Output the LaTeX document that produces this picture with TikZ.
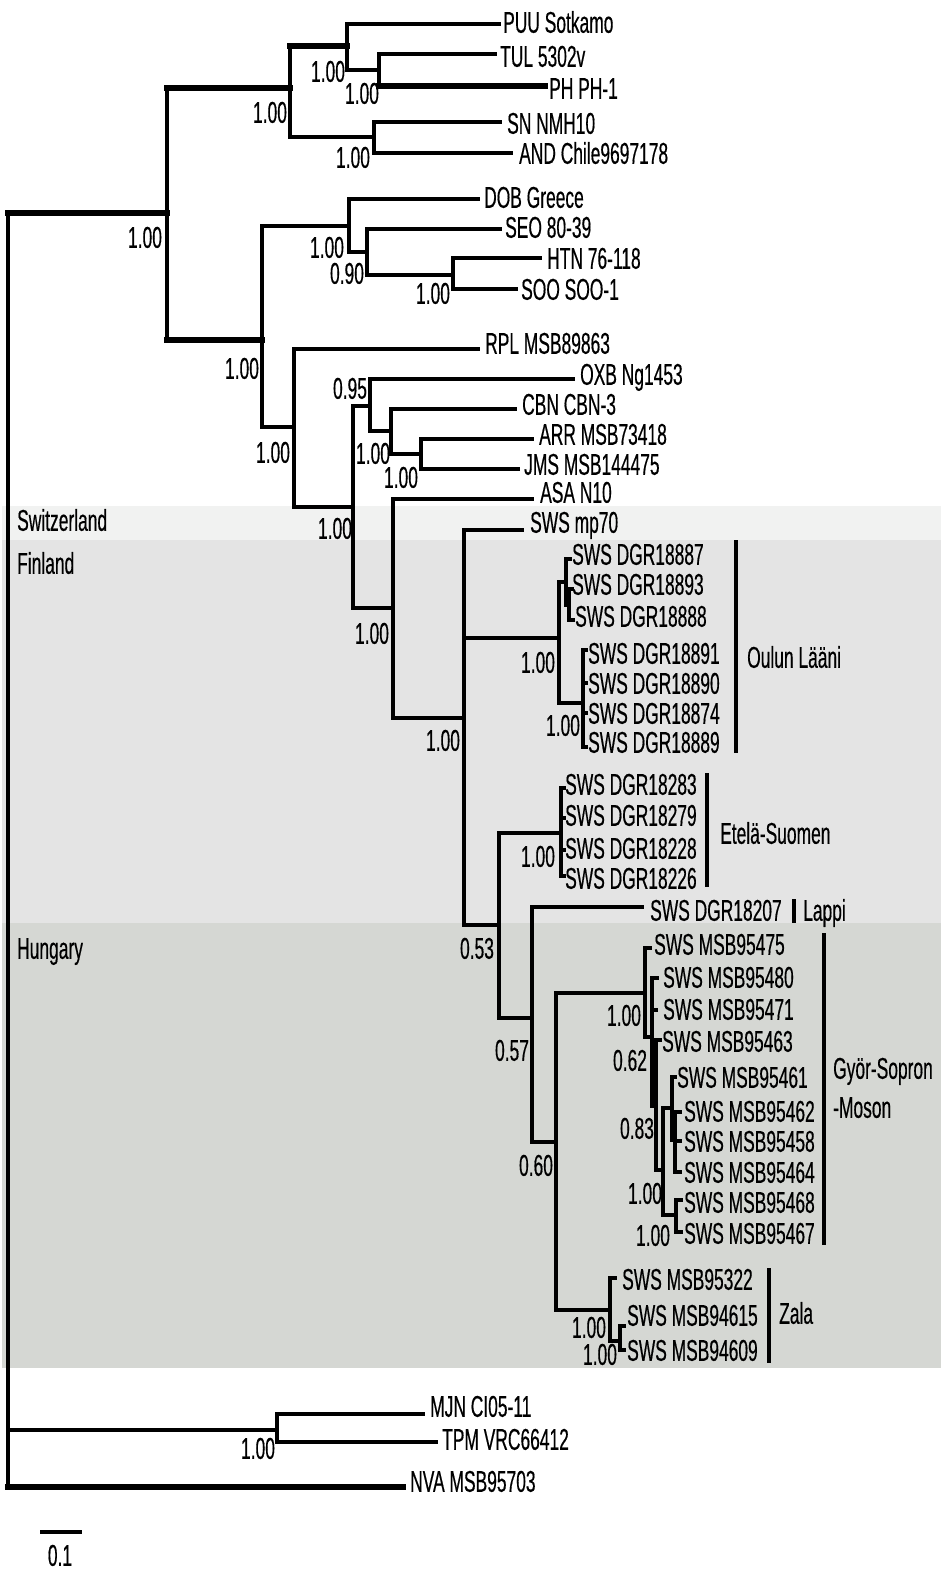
\documentclass[tikz,border=0pt]{standalone}
\usepackage{fontspec}
\setmainfont{Liberation Sans}[FakeStretch=0.58,FakeBold=0.4]
\definecolor{swissbg}{HTML}{F1F2F1}
\definecolor{finbg}{HTML}{E4E4E4}
\definecolor{hunbg}{HTML}{D5D7D3}
\begin{document}
\begin{tikzpicture}[x=1pt,y=-1pt,
  br/.style={line width=3.3pt, line cap=rect},
  thk/.style={line width=5.8pt, line cap=rect},
  med/.style={line width=4.2pt, line cap=rect},
  grpbar/.style={line width=4pt},
  every node/.style={font=\fontsize{30pt}{33pt}\selectfont, inner sep=0pt, text height=21.5pt, text depth=0pt},
  lf/.style={anchor=west},
  sup/.style={anchor=center}]
\useasboundingbox (0,0) rectangle (945,1574);
% background bands
\fill[white] (0,0) rectangle (945,1574);
\fill[swissbg] (2,506) rectangle (941,540);
\fill[finbg] (2,540) rectangle (941,923);
\fill[hunbg] (2,923) rectangle (941,1368);
\node[lf] (swz) at (17,520) {Switzerland};
\node[lf] (fin) at (17,563) {Finland};
\node[lf] (hun) at (17,948) {Hungary};
% internal nodes
\coordinate (r) at (8,850);
\coordinate (N1) at (167,213);
\coordinate (N2) at (290,88);
\coordinate (N3) at (347,46);
\coordinate (N4) at (379,70);
\coordinate (N5) at (374,137);
\coordinate (N6) at (262,340);
\coordinate (N7) at (349,226);
\coordinate (N8) at (367,252);
\coordinate (N9) at (453,275);
\coordinate (N10) at (294,427);
\coordinate (N11) at (353,507);
\coordinate (N12) at (370,406);
\coordinate (N13) at (391,431);
\coordinate (N14) at (421,454);
\coordinate (N15) at (393,608);
\coordinate (N16) at (464,718);
\coordinate (N17) at (559,638);
\coordinate (N18) at (566,582);
\coordinate (N19) at (569,605);
\coordinate (N20) at (583,703);
\coordinate (N21) at (499,925);
\coordinate (N22) at (561,833);
\coordinate (N23) at (532,1018);
\coordinate (N24) at (556,1142);
\coordinate (N25) at (645,993);
\coordinate (N26) at (652,1037);
\coordinate (N27) at (656,1106);
\coordinate (N28) at (663,1170);
\coordinate (N29) at (672,1108);
\coordinate (N30) at (675,1140);
\coordinate (N31) at (676,1215);
\coordinate (N32) at (610,1310);
\coordinate (N33) at (620,1341);
\coordinate (MT) at (277,1430);
% tips
\coordinate (tpuu) at (499,24);
\coordinate (ttul) at (495,54);
\coordinate (tph) at (545,86);
\coordinate (tsn) at (500,122);
\coordinate (tand) at (511,153);
\coordinate (tdob) at (478,199);
\coordinate (tseo) at (500,229);
\coordinate (thtn) at (540,258);
\coordinate (tsoo) at (516,289);
\coordinate (trpl) at (478,349);
\coordinate (toxb) at (573,379);
\coordinate (tcbn) at (515,409);
\coordinate (tarr) at (532,439);
\coordinate (tjms) at (518,469);
\coordinate (tasa) at (532,499);
\coordinate (tmp) at (522,530);
\coordinate (to1) at (570,559);
\coordinate (to2) at (572,589);
\coordinate (to3) at (573,620);
\coordinate (to4) at (586,650);
\coordinate (to5) at (586,683);
\coordinate (to6) at (586,713);
\coordinate (to7) at (586,747);
\coordinate (te1) at (564,788);
\coordinate (te2) at (564,818);
\coordinate (te3) at (564,850);
\coordinate (te4) at (564,876);
\coordinate (tlap) at (642,907);
\coordinate (tg1) at (650,948);
\coordinate (tg2) at (657,978);
\coordinate (tg3) at (656,1010);
\coordinate (tg4) at (660,1040);
\coordinate (tg5) at (675,1077);
\coordinate (tg6) at (680,1112);
\coordinate (tg7) at (680,1141);
\coordinate (tg8) at (680,1172);
\coordinate (tg9) at (681,1200);
\coordinate (tg10) at (681,1232);
\coordinate (tz1) at (615,1278);
\coordinate (tz2) at (624,1326);
\coordinate (tz3) at (624,1350);
\coordinate (tmjn) at (423,1414);
\coordinate (ttpm) at (436,1442);
\coordinate (tnva) at (403,1487);
% branches
\draw[br] (r |- N1) -- (r |- tnva);
\foreach \p/\c in {r/N1, r/MT, r/tnva, N1/N2, N1/N6, N2/N3, N2/N5, N3/tpuu, N3/N4, N4/ttul, N4/tph,
  N5/tsn, N5/tand, N6/N7, N6/N10, N7/tdob, N7/N8, N8/tseo, N8/N9, N9/thtn, N9/tsoo,
  N10/trpl, N10/N11, N11/N12, N11/N15, N12/toxb, N12/N13, N13/tcbn, N13/N14, N14/tarr, N14/tjms,
  N15/tasa, N15/N16, N16/tmp, N16/N17, N16/N21, N17/N18, N17/N20, N18/to1, N18/N19, N19/to2, N19/to3,
  N20/to4, N20/to5, N20/to6, N20/to7, N21/N22, N21/N23, N22/te1, N22/te2, N22/te3, N22/te4,
  N23/tlap, N23/N24, N24/N25, N24/N32, N25/tg1, N25/N26, N26/tg2, N26/tg3, N26/N27, N27/tg4, N27/N28,
  N28/N29, N28/N31, N29/tg5, N29/N30, N30/tg6, N30/tg7, N30/tg8, N31/tg9, N31/tg10,
  N32/tz1, N32/N33, N33/tz2, N33/tz3, MT/tmjn, MT/ttpm}
  \draw[br] (\p) |- (\c);
\foreach \p/\c in {r/N1, N1/N2, N2/N3, N4/tph, N1/N6, r/tnva}
  \draw[thk] (\p |- \c) -- (\c);
\foreach \p/\c in {MT/tmjn, MT/ttpm, N17/N20, N24/N25, N26/tg2, r/MT}
  \draw[med] (\p |- \c) -- (\c);
\draw[med] (N22 |- 805,0) -- (N22 |- 820,0);
% leaf labels
\node[lf] (lpuu) at (503,22) {PUU Sotkamo};
\node[lf] (ltul) at (500,56) {TUL 5302v};
\node[lf] (lph) at (549,88) {PH PH-1};
\node[lf] (lsn) at (507,123) {SN NMH10};
\node[lf] (land) at (519,153) {AND Chile9697178};
\node[lf] (ldob) at (484,197) {DOB Greece};
\node[lf] (lseo) at (505,227) {SEO 80-39};
\node[lf] (lhtn) at (547,258) {HTN 76-118};
\node[lf] (lsoo) at (521,289) {SOO SOO-1};
\node[lf] (lrpl) at (485,343) {RPL MSB89863};
\node[lf] (loxb) at (580,374) {OXB Ng1453};
\node[lf] (lcbn) at (522,404) {CBN CBN-3};
\node[lf] (larr) at (539,434) {ARR MSB73418};
\node[lf] (ljms) at (524,464) {JMS MSB144475};
\node[lf] (lasa) at (540,492) {ASA N10};
\node[lf] (lmp) at (530,522) {SWS mp70};
\node[lf] (lo1) at (572,554) {SWS DGR18887};
\node[lf] (lo2) at (572,584) {SWS DGR18893};
\node[lf] (lo3) at (575,616) {SWS DGR18888};
\node[lf] (lo4) at (588,653) {SWS DGR18891};
\node[lf] (lo5) at (588,683) {SWS DGR18890};
\node[lf] (lo6) at (588,713) {SWS DGR18874};
\node[lf] (lo7) at (588,742) {SWS DGR18889};
\node[lf] (le1) at (565,784) {SWS DGR18283};
\node[lf] (le2) at (565,815) {SWS DGR18279};
\node[lf] (le3) at (565,848) {SWS DGR18228};
\node[lf] (le4) at (565,878) {SWS DGR18226};
\node[lf] (llap) at (650,910) {SWS DGR18207};
\node[lf] (lg1) at (654,944) {SWS MSB95475};
\node[lf] (lg2) at (663,977) {SWS MSB95480};
\node[lf] (lg3) at (663,1009) {SWS MSB95471};
\node[lf] (lg4) at (662,1041) {SWS MSB95463};
\node[lf] (lg5) at (677,1077) {SWS MSB95461};
\node[lf] (lg6) at (684,1111) {SWS MSB95462};
\node[lf] (lg7) at (684,1141) {SWS MSB95458};
\node[lf] (lg8) at (684,1172) {SWS MSB95464};
\node[lf] (lg9) at (684,1202) {SWS MSB95468};
\node[lf] (lg10) at (684,1233) {SWS MSB95467};
\node[lf] (lz1) at (622,1279) {SWS MSB95322};
\node[lf] (lz2) at (627,1315) {SWS MSB94615};
\node[lf] (lz3) at (627,1350) {SWS MSB94609};
\node[lf] (lmjn) at (430,1406) {MJN CI05-11};
\node[lf] (ltpm) at (442,1439) {TPM VRC66412};
\node[lf] (lnva) at (410,1481) {NVA MSB95703};
% support values
\node[sup] (s1) at (328,71) {1.00};
\node[sup] (s2) at (362,93) {1.00};
\node[sup] (s3) at (353,157) {1.00};
\node[sup] (s4) at (270,112) {1.00};
\node[sup] (s5) at (145,237) {1.00};
\node[sup] (s6) at (327,247) {1.00};
\node[sup] (s7) at (347,273) {0.90};
\node[sup] (s8) at (433,293) {1.00};
\node[sup] (s9) at (242,368) {1.00};
\node[sup] (s10) at (273,452) {1.00};
\node[sup] (s11) at (335,528) {1.00};
\node[sup] (s12) at (350,388) {0.95};
\node[sup] (s13) at (373,453) {1.00};
\node[sup] (s14) at (401,477) {1.00};
\node[sup] (s15) at (372,633) {1.00};
\node[sup] (s16) at (443,740) {1.00};
\node[sup] (s17) at (538,662) {1.00};
\node[sup] (s18) at (563,725) {1.00};
\node[sup] (s19) at (538,856) {1.00};
\node[sup] (s20) at (477,948) {0.53};
\node[sup] (s21) at (512,1050) {0.57};
\node[sup] (s22) at (536,1165) {0.60};
\node[sup] (s23) at (624,1015) {1.00};
\node[sup] (s24) at (630,1060) {0.62};
\node[sup] (s25) at (637,1128) {0.83};
\node[sup] (s26) at (645,1193) {1.00};
\node[sup] (s27) at (653,1235) {1.00};
\node[sup] (s28) at (589,1327) {1.00};
\node[sup] (s29) at (600,1354) {1.00};
\node[sup] (s30) at (258,1448) {1.00};
% group bars and names
\draw[grpbar] (736,540) -- (736,753);
\node[lf] (goul) at (747,657) {Oulun Lääni};
\draw[grpbar] (707,773) -- (707,887);
\node[lf] (gete) at (720,833) {Etelä-Suomen};
\draw[grpbar] (794,899) -- (794,923);
\node[lf] (glap) at (803,910) {Lappi};
\draw[grpbar] (824,933) -- (824,1245);
\node[lf] (ggyo) at (833,1068) {Györ-Sopron};
\node[lf] (gmos) at (833,1107) {-Moson};
\draw[grpbar] (769,1268) -- (769,1363);
\node[lf] (gzal) at (779,1313) {Zala};
% scale bar
\draw[med, line cap=butt] (40,1532) -- (82,1532);
\node[sup] (sc) at (60,1555) {0.1};
\end{tikzpicture}
\end{document}
